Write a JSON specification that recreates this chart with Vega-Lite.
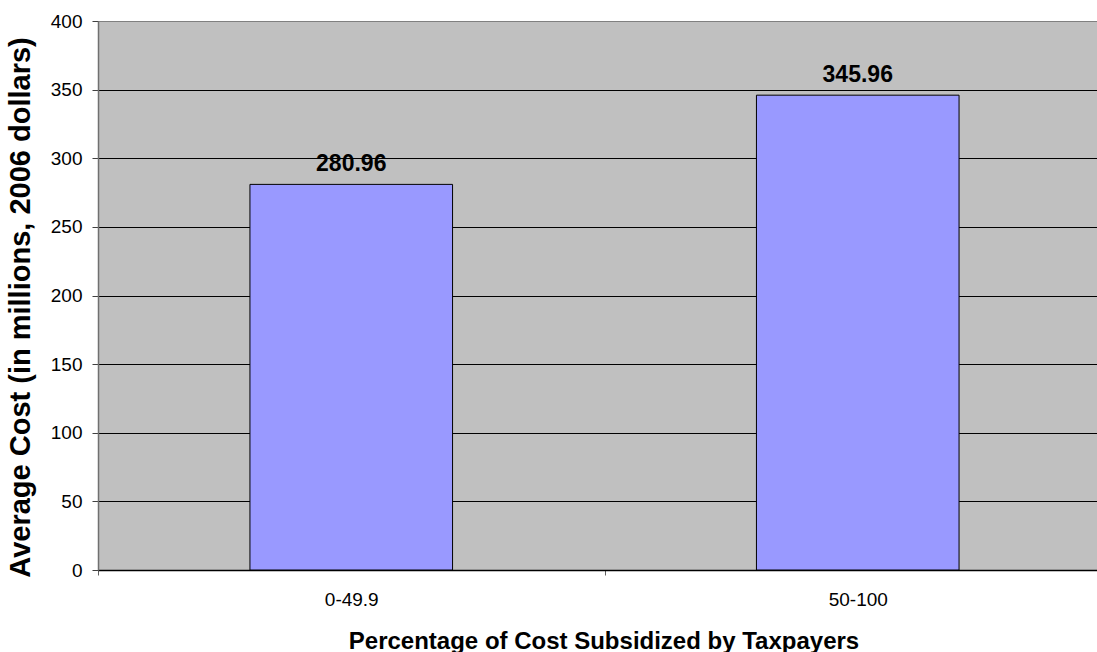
{
  "$schema": "https://vega.github.io/schema/vega-lite/v6.json",
  "autosize": {"type": "none"},
  "padding": {"left": 98, "top": 21, "right": 0, "bottom": 82},
  "width": 999,
  "height": 549,
  "background": "white",
  "config": {
    "font": "Liberation Sans",
    "view": {"fill": "#C0C0C0", "stroke": "#808080", "strokeWidth": 1}
  },
  "data": {
    "values": [
      {"category": "0-49.9", "cost": 280.96},
      {"category": "50-100", "cost": 345.96}
    ]
  },
  "encoding": {
    "x": {
      "field": "category",
      "type": "nominal",
      "sort": null,
      "scale": {"range": [0, 1013], "paddingInner": 0.6, "paddingOuter": 0.3},
      "axis": {
        "title": "Percentage of Cost Subsidized by Taxpayers",
        "titleFont": "Liberation Sans",
        "titleFontSize": 24,
        "titleFontWeight": "bold",
        "titleColor": "black",
        "titleBaseline": "alphabetic",
        "titleX": 505.5,
        "titleY": 78,
        "labelAngle": 0,
        "labelFont": "Liberation Sans",
        "labelFontSize": 19,
        "labelColor": "black",
        "labelBaseline": "alphabetic",
        "labelPadding": 30,
        "labelOffset": 253.25,
        "tickOffset": -253.25,
        "tickSize": 5,
        "tickColor": "#606060",
        "domainColor": "black",
        "domainWidth": 1.5,
        "grid": false
      }
    },
    "y": {
      "field": "cost",
      "type": "quantitative",
      "scale": {"domain": [0, 400], "nice": false},
      "axis": {
        "title": "Average Cost (in millions, 2006 dollars)",
        "titleFont": "Liberation Sans",
        "titleFontSize": 29,
        "titleFontWeight": "bold",
        "titleColor": "black",
        "titleAngle": -90,
        "titleAlign": "center",
        "titleBaseline": "middle",
        "titleX": -78,
        "titleY": 286,
        "values": [0, 50, 100, 150, 200, 250, 300, 350, 400],
        "labelFont": "Liberation Sans",
        "labelFontSize": 19,
        "labelColor": "black",
        "labelPadding": 10,
        "tickSize": 6,
        "tickColor": "#404040",
        "domainColor": "#707070",
        "domainWidth": 1.5,
        "grid": true,
        "gridColor": {"condition": {"test": "datum.value === 400", "value": "#808080"}, "value": "black"},
        "gridWidth": 1,
        "gridOpacity": 1
      }
    }
  },
  "layer": [
    {
      "mark": {"type": "bar", "fill": "#9999FF", "stroke": "black", "strokeWidth": 1}
    },
    {
      "mark": {"type": "text", "font": "Liberation Sans", "fontSize": 23, "fontWeight": "bold", "color": "black", "baseline": "alphabetic", "dy": -13},
      "encoding": {
        "text": {"field": "cost", "type": "quantitative", "format": ".2f"}
      }
    }
  ]
}
